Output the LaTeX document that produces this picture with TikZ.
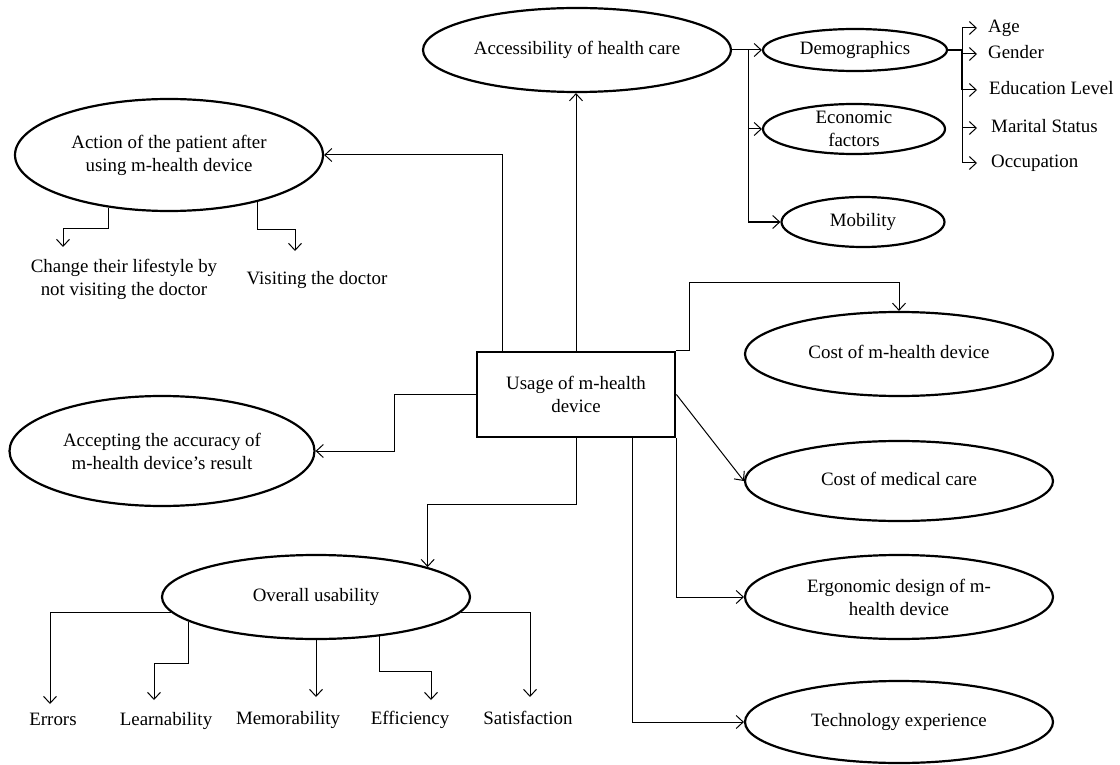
\documentclass[tikz,border=0pt]{standalone}
\usepackage{fontspec}
\setmainfont{Liberation Serif}
\usetikzlibrary{arrows.meta,shapes.geometric,calc}
\begin{document}
\begin{tikzpicture}[x=1pt,y=-1pt,
  every node/.style={font=\fontsize{18.9}{23}\selectfont, inner sep=0pt},
  ell/.style={draw, ellipse, line width=2.2pt},
  con/.style={line width=1pt},
  arr/.style={con, -{Straight Barb[length=7pt,width=13pt,line width=1pt]}},
  lab/.style={text height=12.5pt, text depth=4pt},
  ml/.style={align=center}]
\useasboundingbox (0,0) rectangle (1120,765);

% ellipses
\node[ell, minimum width=308pt, minimum height=84pt, label={[lab]center:Accessibility of health care}] (acc) at (577,50) {};
\node[ell, minimum width=184pt, minimum height=42pt, label={[lab]center:Demographics}] (demo) at (855,50) {};
\node[ell, minimum width=182pt, minimum height=50pt, label={[ml]center:Economic\\factors}] (econ) at (854,129) {};
\node[ell, minimum width=163pt, minimum height=50pt, label={[lab]center:Mobility}] (mob) at (863,222) {};
\node[ell, minimum width=308pt, minimum height=112pt, label={[ml]center:Action of the patient after\\using m-health device}] (action) at (169,155) {};
\node[ell, minimum width=305pt, minimum height=110pt, label={[ml]center:Accepting the accuracy of\\m-health device’s result}] (accept) at (162,451) {};
\node[ell, minimum width=308pt, minimum height=84pt, label={[lab]center:Cost of m-health device}] (costdev) at (899,354) {};
\node[ell, minimum width=308pt, minimum height=80pt, label={[lab]center:Cost of medical care}] (costmed) at (899,481) {};
\node[ell, minimum width=308pt, minimum height=84pt, label={[ml]center:Ergonomic design of m-\\health device}] (ergo) at (899,597) {};
\node[ell, minimum width=308pt, minimum height=82pt, label={[lab]center:Technology experience}] (tech) at (899,722) {};
\node[ell, minimum width=308pt, minimum height=84pt, label={[lab]center:Overall usability}] (overall) at (316,597) {};

% central box
\node[draw, line width=2.8pt, minimum width=198pt, minimum height=85pt, align=center] (usage) at (576,394.5) {Usage of m-health\\device};

% demographic labels
\node[lab, anchor=west] (age) at (988,28) {Age};
\node[lab, anchor=west] (gen) at (988,54) {Gender};
\node[lab, anchor=west] (edu) at (989,90) {Education Level};
\node[lab, anchor=west] (mar) at (991,128) {Marital Status};
\node[lab, anchor=west] (occ) at (991,163) {Occupation};

% action outcome labels
\node[ml] (change) at (124,279) {Change their lifestyle by\\not visiting the doctor};
\node[lab] (visit) at (317,280) {Visiting the doctor};

% usability labels
\node[lab] (errors) at (53,721) {Errors};
\node[lab] (learn) at (166,721) {Learnability};
\node[lab] (memo) at (288,720) {Memorability};
\node[lab] (effi) at (410,720) {Efficiency};
\node[lab] (sati) at (528,720) {Satisfaction};

% tip coordinates
\coordinate (t1) at (63,247);
\coordinate (t2) at (295,251);
\coordinate (te) at (50,704);
\coordinate (tl) at (154,700);
\coordinate (tm) at (316,697);
\coordinate (tf) at (431,700);
\coordinate (ts) at (530,697);

% connectors from central box
\draw[arr] ([xshift=27pt]usage.north west) |- (action.east);
\draw[arr] (usage.north) -- (usage.north |- acc.south);
\draw[arr] (usage.north east) -- ++(13,0) -- ++(0,-68) -| (costdev.north);
\draw[arr] (usage.east) -- (costmed.west);
\draw[arr] (usage.south east) |- (ergo.west);
\draw[arr] ([xshift=-44pt]usage.south east) |- (tech.west);
\draw[arr] (usage.south) -- ++(0,66) -| (overall.15.5);
\draw[arr] (usage.west) -- ++(-81,0) |- (accept.east);

% accessibility branches
\coordinate (br) at ([xshift=16pt]acc.east);
\draw[arr] (acc.east) -- (demo.west);
\draw[arr] (br) |- (econ.west);
\draw[arr] (br) |- (mob.west);

% demographics branches
\coordinate (dv) at ([xshift=14pt]demo.east);
\draw[line width=2.4pt] (demo.east) -- (dv) -- (dv |- edu.west);
\draw[con] (dv |- age.west) -- (dv |- occ.west);
\foreach \n/\s in {age/11pt,gen/11pt,edu/12pt,mar/14pt,occ/14pt}
  \draw[arr, shorten >=\s] (dv |- \n.west) -- (\n.west);

% action outcomes
\draw[arr] (action.221) -- ++(0,21) -| (t1);
\draw[arr] (action.332) -- ++(0,28) -| (t2);

% usability outcomes
\draw[arr] (overall.186) -| (te);
\draw[arr] (overall.191) -- ++(0,42) -| (tl);
\draw[arr] (overall.south) -- (tm);
\draw[arr] (overall.328) -- ++(0,35) -| (tf);
\draw[arr] (overall.354) -| (ts);
\end{tikzpicture}
\end{document}
